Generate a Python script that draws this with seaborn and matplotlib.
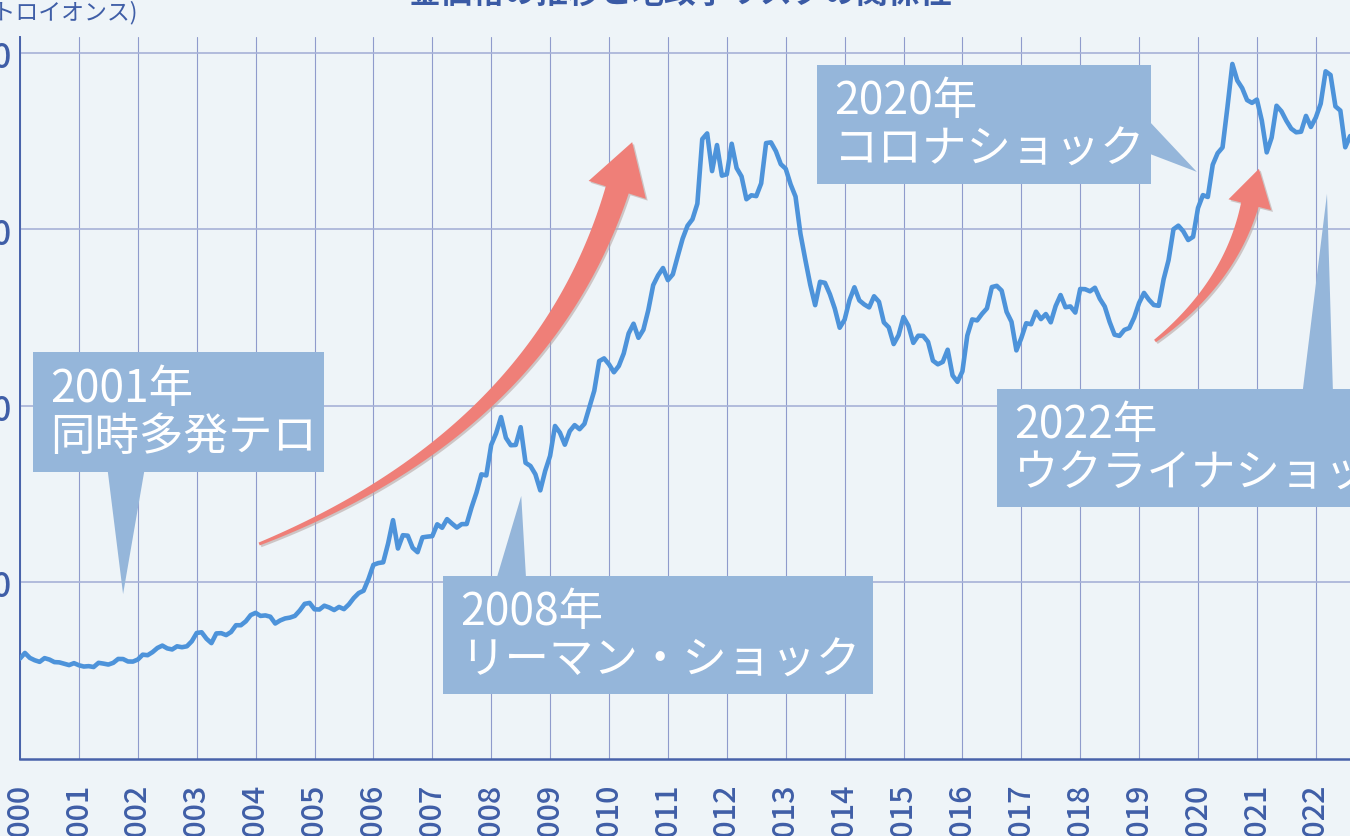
import numpy as np
import matplotlib
matplotlib.use("Agg")
import matplotlib.pyplot as plt
from matplotlib.patches import Polygon
import seaborn as sns
import pandas as pd

# monthly average gold price (USD per troy ounce), Jan 2000 - Aug 2022
gold_2000_2005 = [
    284.6, 300.4, 286.4, 279.7, 275.2, 285.7, 281.6, 274.5, 273.7, 270.0, 266.0, 271.5,
    265.5, 261.9, 263.0, 260.5, 272.4, 270.2, 267.5, 272.4, 283.4, 283.1, 276.2, 275.9,
    281.7, 295.5, 294.0, 302.7, 314.5, 321.2, 313.3, 310.3, 319.2, 316.6, 319.2, 333.4,
    356.9, 359.0, 340.6, 328.2, 355.7, 356.4, 351.0, 359.8, 378.9, 378.9, 389.9, 407.6,
    414.0, 405.3, 406.7, 403.0, 383.8, 392.4, 398.1, 400.5, 405.3, 420.5, 439.4, 442.1,
    424.0, 423.4, 434.2, 429.2, 421.9, 430.7, 424.5, 437.9, 456.0, 469.9, 476.7, 509.8,
]
gold_2006_2011 = [
    549.9, 555.0, 557.1, 610.6, 676.5, 596.2, 633.8, 632.6, 598.2, 585.8, 627.8, 629.8,
    631.2, 664.8, 654.9, 679.4, 666.9, 655.5, 665.3, 665.4, 712.7, 754.6, 806.3, 803.2,
    889.6, 922.3, 968.4, 909.7, 888.7, 889.5, 939.8, 839.0, 829.9, 806.6, 760.9, 816.1,
    858.7, 943.2, 924.3, 890.2, 928.6, 945.7, 934.2, 949.4, 996.6, 1043.2, 1127.0, 1134.7,
    1117.9, 1095.4, 1113.3, 1148.7, 1205.4, 1232.9, 1193.0, 1215.8, 1271.0, 1342.0, 1369.9, 1390.6,
    1356.4, 1372.7, 1424.0, 1473.8, 1510.4, 1528.7, 1572.8, 1755.8, 1771.9, 1665.2, 1738.9, 1652.3,
]
gold_2012_2017 = [
    1656.1, 1742.6, 1673.8, 1650.1, 1585.5, 1596.7, 1594.3, 1630.3, 1744.5, 1746.6, 1721.6, 1684.8,
    1671.9, 1627.6, 1593.1, 1487.9, 1414.0, 1343.4, 1285.5, 1351.7, 1348.6, 1316.6, 1275.8, 1221.5,
    1244.3, 1299.6, 1336.1, 1299.0, 1287.5, 1279.1, 1310.6, 1295.1, 1236.6, 1222.5, 1175.3, 1200.6,
    1251.8, 1227.1, 1178.6, 1198.9, 1198.6, 1181.5, 1128.3, 1117.9, 1124.8, 1159.3, 1086.4, 1068.3,
    1097.9, 1199.5, 1245.1, 1242.3, 1260.9, 1276.4, 1336.7, 1340.2, 1326.6, 1266.6, 1238.4, 1157.4,
    1192.1, 1234.2, 1231.4, 1266.9, 1246.0, 1260.3, 1236.8, 1283.0, 1314.1, 1279.5, 1281.9, 1264.5,
]
gold_2018_2022 = [
    1331.3, 1330.7, 1324.7, 1334.8, 1303.5, 1281.6, 1237.7, 1201.7, 1198.4, 1215.4, 1220.7, 1250.4,
    1291.8, 1320.1, 1300.9, 1285.9, 1283.7, 1359.0, 1412.9, 1500.4, 1510.6, 1494.8, 1470.0, 1479.1,
    1560.7, 1597.1, 1591.9, 1683.2, 1715.9, 1732.2, 1846.5, 1968.6, 1921.9, 1900.3, 1866.3, 1858.4,
    1867.8, 1808.2, 1718.2, 1760.0, 1850.3, 1834.6, 1807.8, 1785.3, 1775.1, 1776.7, 1821.5, 1790.2,
    1816.8, 1856.3, 1947.8, 1937.4, 1848.5, 1836.6, 1732.7, 1764.6,
]
year_ticks = list(range(2000, 2023))
price_ticks = [500, 1000, 1500, 2000]

title = "金価格の推移と地政学リスクの関係性"
unit_label = "(ドル/トロイオンス)"
event_labels = [
    "2001年\n同時多発テロ",
    "2008年\nリーマン・ショック",
    "2020年\nコロナショック",
    "2022年\nウクライナショック",
]

BG = "#eef4f8"
LINE = "#4d93da"
GRID = "#8f9bcc"
AXIS = "#4862aa"
TEXT = "#3f5ea7"
BOX = "#95b6da"
ARROW = "#ef7f78"
JP = ["Noto Sans CJK JP", "DejaVu Sans"]

sns.set_style("white")
plt.rcParams["font.family"] = JP

prices = gold_2000_2005 + gold_2006_2011 + gold_2012_2017 + gold_2018_2022
df = pd.DataFrame({"year": 2000 + np.arange(len(prices)) / 12, "price": prices})

W, H = 1350, 837
fig = plt.figure(figsize=(W / 100, H / 100), dpi=100, facecolor=BG)
ax = fig.add_axes([20 / W, 77 / H, 1330 / W, 722 / H])
ax.set_facecolor(BG)

sns.lineplot(data=df, x="year", y="price", ax=ax, color=LINE, lw=3.3, zorder=3)

ax.set_xlim(2000, 2000 + 1330 / 58.9)
ax.set_ylim(0, 2045)
ax.set_xticks(year_ticks)
ax.set_xticklabels([str(y) for y in year_ticks], rotation=90, fontweight="medium")
ax.set_yticks(price_ticks)
ax.set_yticklabels([f"{p:,}" for p in price_ticks], fontweight="medium")
ax.tick_params(axis="x", length=0, pad=17, labelsize=22, labelcolor=TEXT)
ax.tick_params(axis="y", length=0, pad=6, labelsize=24, labelcolor=TEXT)
ax.set_xlabel("")
ax.set_ylabel("")
ax.grid(axis="x", color=GRID, lw=0.8)
ax.grid(axis="y", color="#a6b1d7", lw=1.2)
for side in ["top", "right"]:
    ax.spines[side].set_visible(False)
ax.spines["left"].set_color(AXIS)
ax.spines["left"].set_linewidth(1.4)
ax.spines["bottom"].set_color(AXIS)
ax.spines["bottom"].set_linewidth(1.8)

fig.text(680 / W, 1 + 6 / H, title, ha="center", va="center", fontsize=23,
         fontweight="bold", color="#3a5aa5")
fig.text(138 / W, 1 - 13 / H, unit_label, ha="right", va="center", fontsize=16.5,
         color=TEXT)


def callout(label, box, pointer):
    # box = (x0, x1, y0, y1) in year / price units, pointer = triangle vertices
    x0, x1, y0, y1 = box
    ax.add_patch(Polygon([(x0, y0), (x1, y0), (x1, y1), (x0, y1)], closed=True,
                         fc=BOX, ec="none", zorder=5))
    ax.add_patch(Polygon(pointer, closed=True, fc=BOX, ec="none", zorder=5))
    ax.text(x0 + 0.29, (y0 + y1) / 2, label, ha="left", va="center", fontsize=32,
            color="white", linespacing=1.08, zorder=6, clip_on=False)


callout(event_labels[0], (2000.22, 2005.16, 813, 1153),
        [(2001.49, 815), (2002.11, 815), (2001.75, 467)])
callout(event_labels[1], (2007.18, 2014.48, 184, 518),
        [(2008.10, 516), (2008.59, 516), (2008.51, 745)])
callout(event_labels[2], (2013.53, 2019.20, 1629, 1966),
        [(2019.18, 1805), (2019.18, 1714), (2019.98, 1663)])
callout(event_labels[3], (2016.59, 2022.75, 714, 1048),
        [(2021.78, 1046), (2022.29, 1046), (2022.19, 1601)])


def tapered_arrow(p0, p1, p2, w0, w1, head_len, head_w):
    P = ax.transData.transform(np.array([p0, p1, p2]))
    t = np.linspace(0, 1, 80)[:, None]
    curve = (1 - t) ** 2 * P[0] + 2 * (1 - t) * t * P[1] + t ** 2 * P[2]
    deriv = 2 * (1 - t) * (P[1] - P[0]) + 2 * t * (P[2] - P[1])
    tang = deriv / np.linalg.norm(deriv, axis=1)[:, None]
    nrm = np.column_stack([-tang[:, 1], tang[:, 0]])
    half = (w0 + (w1 - w0) * t) / 2
    left = curve + nrm * half
    right = curve - nrm * half
    tip = P[2] + tang[-1] * head_len
    hl = P[2] + nrm[-1] * head_w / 2
    hr = P[2] - nrm[-1] * head_w / 2
    pts = np.vstack([left, hl, tip, hr, right[::-1]])
    inv = ax.transData.inverted()
    shadow = inv.transform(pts + np.array([1.8, -1.8]))
    ax.add_patch(Polygon(shadow, closed=True, fc="#b8a7a4", ec="none", alpha=0.6, zorder=3.5))
    ax.add_patch(Polygon(inv.transform(pts), closed=True, fc=ARROW, ec="none", zorder=4))


tapered_arrow((2004.06, 609), (2008.86, 929), (2010.14, 1612), 3, 24, 50, 60)
tapered_arrow((2019.27, 1184), (2020.54, 1346), (2020.88, 1570), 3, 18, 37, 44)

fig.savefig("out.png", dpi=100, facecolor=BG)
